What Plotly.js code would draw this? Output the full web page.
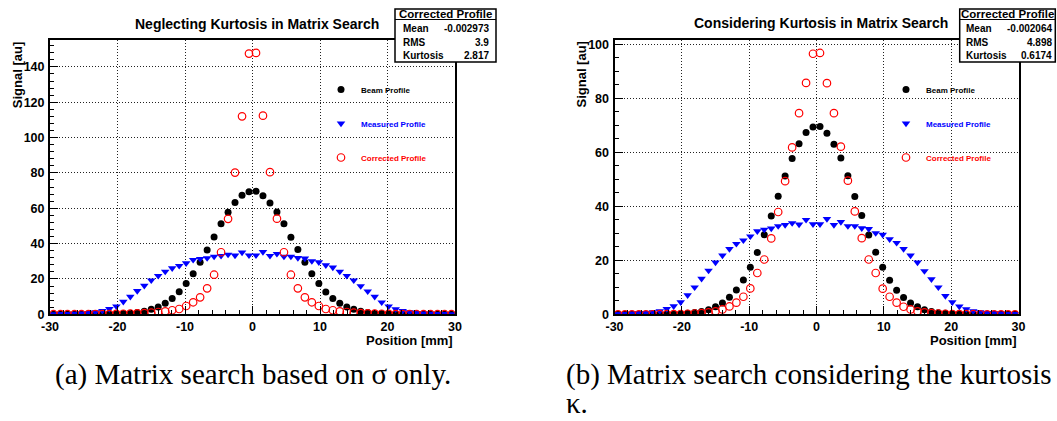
<!DOCTYPE html>
<html><head><meta charset="utf-8">
<script src="https://cdn.plot.ly/plotly-3.0.1.min.js"></script>
<style>html,body{margin:0;padding:0;background:#fff;overflow:hidden}</style>
</head><body><div id="chart" style="width:1057px;height:421px"></div>
<script>
// ---- data ----
const positionMM = [-29.48,-28.45,-27.41,-26.38,-25.34,-24.31,-23.28,-22.24,-21.21,-20.17,-19.14,-18.10,-17.07,-16.03,-15.00,-13.97,-12.93,-11.90,-10.86,-9.83,-8.79,-7.76,-6.72,-5.69,-4.66,-3.62,-2.59,-1.55,-0.52,
  0.52,1.55,2.59,3.62,4.66,5.69,6.72,7.76,8.79,9.83,10.86,11.90,12.93,13.97,15.00,16.03,17.07,18.10,19.14,20.17,21.21,22.24,23.28,24.31,25.34,26.38,27.41,28.45,29.48];
const beamProfile = [0,0,0,0,0.01,0.02,0.04,0.08,0.15,0.25,0.4,0.65,1.0,1.7,2.8,4.2,6.3,9.0,12.7,17.4,22.9,29.5,36.4,43.7,51.2,57.7,63.2,67.3,69.4,
  69.6,67.1,63.0,57.9,51.3,43.6,36.6,29.4,23.0,17.4,12.6,8.9,6.2,4.2,2.8,1.7,1.0,0.6,0.4,0.25,0.15,0.08,0.04,0.02,0.01,0,0,0,0];
const measuredProfile = [0.15,0.2,0.3,0.4,0.5,0.8,1.2,2.0,3.0,4.5,7.1,10.0,13.2,16.2,19.2,21.8,24.2,26.1,27.4,28.9,30.8,31.4,31.8,32.7,33.1,33.8,33.3,35.0,33.4,
  33.4,35.3,33.1,34.2,32.7,32.7,31.9,31.6,30.1,29.5,27.8,26.5,24.2,21.8,19.2,16.0,13.0,10.0,6.8,4.5,2.9,1.9,1.2,0.8,0.5,0.4,0.3,0.2,0.15];
const correctedNeglecting = [0.05,0.05,0.05,0.05,0.05,0.05,0.1,0.1,0.15,0.2,0.3,0.4,0.5,0.7,0.9,1.3,1.7,2.3,3.0,4.7,6.8,9.6,14.7,22.4,35.1,54.0,80.2,112.0,147.5,
  147.9,112.4,80.4,54.1,35.1,22.4,14.7,9.6,6.8,4.7,3.0,2.3,1.7,1.3,0.9,0.7,0.5,0.4,0.3,0.2,0.15,0.1,0.1,0.05,0.05,0.05,0.05,0.05,0.05];
const correctedConsidering = [0,0,0,0,0,0.02,0.03,0.05,0.08,0.12,0.2,0.3,0.45,0.7,1.1,1.8,2.9,4.3,6.5,9.6,15.3,20.3,28.1,37.9,49.3,61.8,74.5,85.7,96.5,
  96.8,85.6,74.5,62.1,49.5,38.1,28.2,20.3,15.3,9.5,6.5,4.3,2.8,1.8,1.1,0.7,0.45,0.3,0.2,0.12,0.08,0.05,0.03,0.02,0,0,0,0,0];
const seriesNames = ["Beam Profile","Measured Profile","Corrected Profile"];
const xTickVals = [-30,-20,-10,0,10,20,30];
const xTickText = ["-30","-20","-10","0","10","20","30"];
const yTickValsLeft = [0,20,40,60,80,100,120,140];
const yTickValsRight = [0,20,40,60,80,100];
const panelTitles = ["Neglecting Kurtosis in Matrix Search","Considering Kurtosis in Matrix Search"];
const statsHeader = "Corrected Profile";
const statsLabels = ["Mean","RMS","Kurtosis"];
const statsNeglecting = ["-0.002973","3.9","2.817"];
const statsConsidering = ["-0.002064","4.898","0.6174"];
const xTitle = "Position [mm]";
const yTitle = "Signal [au]";
const captionA = "(a) Matrix search based on σ only.";
const captionB = ["(b) Matrix search considering the kurtosis", "κ."];

// ---- layout helpers ----
const W = 1057, H = 421;
const fx = p => p / W, fy = p => 1 - p / H;
const SANS = "Liberation Sans, Arial, sans-serif";
const tickFont = {family: SANS, size: 12.5, weight: 700, color: "#000"};
const colors = ["#000000", "#0000ff", "#ff0000"];
const bold = s => "<b>" + s + "</b>";

function mkTraces(corr, xa, ya, lg) {
  const ys = [beamProfile, measuredProfile, corr];
  const markers = [
    {symbol: "circle", size: 7, color: colors[0]},
    {symbol: "triangle-down", size: 7.5, color: colors[1]},
    {symbol: "circle-open", size: 7.5, color: colors[2], line: {width: 1.2, color: colors[2]}}
  ];
  return ys.map((y, i) => ({
    type: "scatter", mode: "markers", x: positionMM, y: y, xaxis: xa, yaxis: ya,
    name: '<span style="color:' + colors[i] + '"><b>' + seriesNames[i] + '</b></span>',
    legend: lg, legendgroup: lg + i, marker: markers[i], hoverinfo: "skip"
  }));
}

const data = [].concat(mkTraces(correctedNeglecting, "x", "y", "legend"),
                       mkTraces(correctedConsidering, "x2", "y2", "legend2"));

function xAxis(d, anchor) {
  return {domain: d, anchor: anchor, range: [-30, 30],
    tickmode: "array", tickvals: xTickVals, ticktext: xTickText.map(bold),
    ticks: "inside", ticklen: 8, tickwidth: 1, tickcolor: "#000",
    showline: true, linecolor: "#000", linewidth: 2, mirror: true,
    showgrid: true, gridcolor: "#222", griddash: "1px,2px", gridwidth: 1, zeroline: false,
    tickfont: tickFont, ticklabelstandoff: 0,
    minor: {tickmode: "linear", dtick: 2, tick0: 0, ticks: "inside", ticklen: 4, tickwidth: 1, tickcolor: "#000", showgrid: false}};
}
function yAxis(r, vals, minorStep, anchor) {
  return {domain: [fy(314.3), fy(40)], anchor: anchor, range: r,
    tickmode: "array", tickvals: vals, ticktext: vals.map(v => bold(String(v))),
    ticks: "inside", ticklen: 8, tickwidth: 1, tickcolor: "#000",
    showline: true, linecolor: "#000", linewidth: 2, mirror: true,
    showgrid: true, gridcolor: "#222", griddash: "1px,2px", gridwidth: 1, zeroline: false,
    tickfont: tickFont, ticklabelstandoff: 1,
    minor: {tickmode: "linear", dtick: minorStep, tick0: 0, ticks: "inside", ticklen: 4, tickwidth: 1, tickcolor: "#000", showgrid: false}};
}

const ann = [];
function txt(text, x, y, opts) {
  ann.push(Object.assign({text: text, x: fx(x), y: fy(y), xref: "paper", yref: "paper",
    showarrow: false, xanchor: "center", yanchor: "middle",
    font: {family: SANS, size: 12, color: "#000"}}, opts || {}));
}
// panel titles
txt(bold(panelTitles[0]), 256.6, 24.5, {font: {family: SANS, size: 14, color: "#000"}});
txt(bold(panelTitles[1]), 821.3, 23.5, {font: {family: SANS, size: 14, color: "#000"}});
// axis titles
[[455, 17.2], [1018.5, 580.5]].forEach(p => {
  txt(bold(xTitle), p[0], 331, {xanchor: "right", yanchor: "top", font: {family: SANS, size: 13, color: "#000"}});
  txt(bold(yTitle), p[1], 40, {textangle: -90, xanchor: "center", yanchor: "top", font: {family: SANS, size: 13, color: "#000"}});
});
// stats boxes
const shapes = [];
function statsBox(x0, x1, vals, valRight, labLeft) {
  shapes.push({type: "rect", xref: "paper", yref: "paper", x0: fx(x0), x1: fx(x1), y0: fy(62), y1: fy(9),
    fillcolor: "#fff", line: {color: "#000", width: 1.5}, layer: "above"});
  shapes.push({type: "line", xref: "paper", yref: "paper", x0: fx(x0), x1: fx(x1), y0: fy(19.5), y1: fy(19.5),
    line: {color: "#000", width: 1}, layer: "above"});
  txt(bold(statsHeader), (x0 + Math.min(x1, 1057)) / 2, 14.3, {font: {family: SANS, size: 11.5, color: "#000"}});
  const rows = [28.3, 42.3, 55.7];
  statsLabels.forEach((l, i) => {
    txt(bold(l), labLeft, rows[i], {xanchor: "left", font: {family: SANS, size: 10, color: "#000"}});
    txt(bold(vals[i]), valRight, rows[i], {xanchor: "right", font: {family: SANS, size: 10, color: "#000"}});
  });
}
statsBox(395, 496, statsNeglecting, 491, 400.5);
statsBox(959.7, 1055.3, statsConsidering, 1054, 964.3);
// captions
const SERIF = "Liberation Serif, Times New Roman, serif";
const capFont = {family: SERIF, size: 29, color: "#000"};
txt(captionA, 53, 374, {xanchor: "left", font: capFont});
txt(captionB[0], 564, 374, {xanchor: "left", font: capFont});
txt(captionB[1], 564, 403, {xanchor: "left", font: capFont});

const legendCommon = {xanchor: "left", yanchor: "top", bgcolor: "rgba(0,0,0,0)", borderwidth: 0,
  font: {family: SANS, size: 8, color: "#000"}, traceorder: "grouped", tracegroupgap: 15,
  itemclick: false, itemdoubleclick: false};

const layout = {
  width: W, height: H, margin: {l: 0, r: 0, t: 0, b: 0},
  paper_bgcolor: "#fff", plot_bgcolor: "#fff", showlegend: true,
  xaxis: xAxis([fx(50), fx(455)], "y"),
  yaxis: yAxis([0, 155.2], yTickValsLeft, 4, "x"),
  xaxis2: xAxis([fx(614.5), fx(1018.5)], "y2"),
  yaxis2: yAxis([0, 101.6], yTickValsRight, 5, "x2"),
  legend: Object.assign({x: fx(321), y: fy(75)}, legendCommon),
  legend2: Object.assign({x: fx(886), y: fy(75)}, legendCommon),
  annotations: ann, shapes: shapes
};
Plotly.newPlot("chart", data, layout, {staticPlot: true, displayModeBar: false});
</script></body></html>
